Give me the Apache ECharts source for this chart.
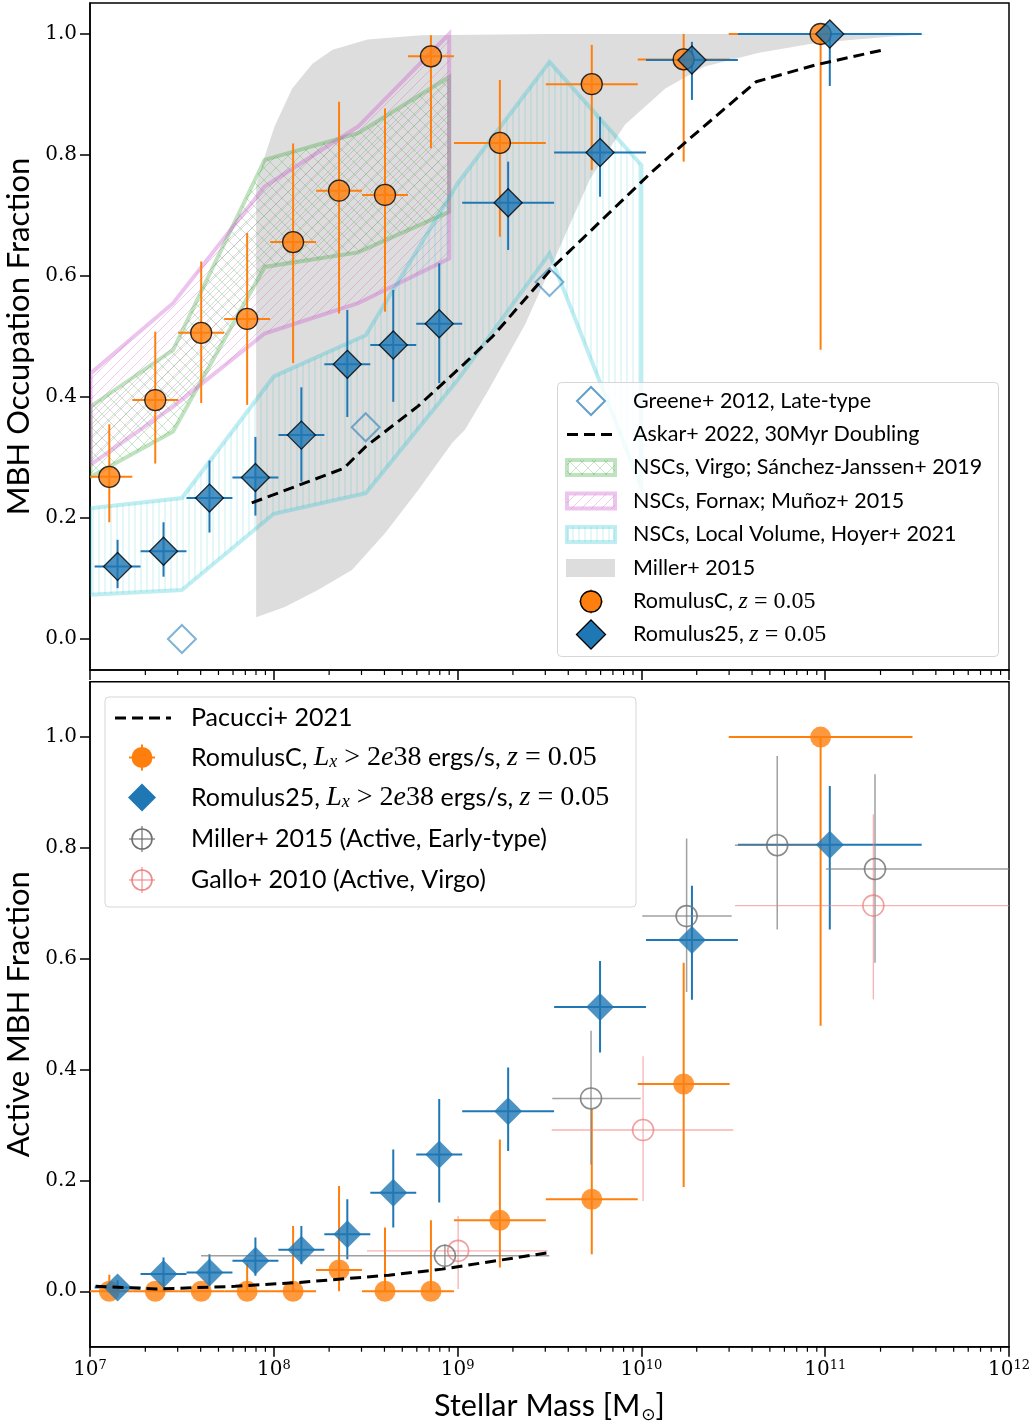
<!DOCTYPE html>
<html>
<head>
<meta charset="utf-8">
<script src="https://cdn.jsdelivr.net/npm/echarts@6/dist/echarts.min.js"></script>
<style>
  html, body { margin: 0; padding: 0; background: #fff; }
  #chart { width: 1032px; height: 1427px; }
</style>
</head>
<body>
<div id="chart"></div>
<script>
// All masses are stored as log10(M* / Msun).
const xMajorTicks = [7, 8, 9, 10, 11, 12];
const yTicksTop = [0.0, 0.2, 0.4, 0.6, 0.8, 1.0];
const yTicksBottom = [0.0, 0.2, 0.4, 0.6, 0.8, 1.0];

// ---- Top panel: MBH occupation fraction ----
// RomulusC
const romCLogM    = [7.105, 7.355, 7.605, 7.855, 8.105, 8.355, 8.605, 8.855, 9.23, 9.73, 10.23, 10.975];
const romCHalfBin = [0.125, 0.125, 0.125, 0.125, 0.125, 0.125, 0.125, 0.125, 0.25, 0.25, 0.25, 0.5];
const romCOcc     = [0.268, 0.395, 0.506, 0.529, 0.656, 0.741, 0.734, 0.963, 0.820, 0.917, 0.958, 1.000];
const romCOccLo   = [0.193, 0.290, 0.390, 0.387, 0.456, 0.538, 0.541, 0.811, 0.665, 0.775, 0.789, 0.478];
const romCOccHi   = [0.355, 0.508, 0.624, 0.671, 0.819, 0.888, 0.877, 0.998, 0.924, 0.982, 1.000, 1.000];
// Romulus25
const rom25LogM    = [7.15, 7.40, 7.65, 7.90, 8.15, 8.40, 8.65, 8.90, 9.275, 9.775, 10.275, 11.025];
const rom25HalfBin = [0.125, 0.125, 0.125, 0.125, 0.125, 0.125, 0.125, 0.125, 0.25, 0.25, 0.25, 0.5];
const rom25Occ     = [0.120, 0.145, 0.233, 0.267, 0.337, 0.454, 0.486, 0.521, 0.721, 0.804, 0.957, 1.000];
const rom25OccLo   = [0.084, 0.103, 0.176, 0.204, 0.260, 0.367, 0.392, 0.423, 0.643, 0.731, 0.891, 0.914];
const rom25OccHi   = [0.164, 0.193, 0.295, 0.334, 0.416, 0.544, 0.577, 0.621, 0.789, 0.863, 0.987, 1.000];
// Greene+ 2012, late-type
const greeneLogM = [7.5, 8.5, 9.5];
const greeneOcc  = [0.00, 0.35, 0.59];
// Askar+ 2022, 30 Myr doubling
const askarLogM = [7.88, 8.38, 8.50, 8.785, 9.04, 9.19, 9.52, 10.05, 10.255, 10.624, 10.95, 11.32];
const askarOcc  = [0.225, 0.282, 0.318, 0.385, 0.456, 0.500, 0.615, 0.770, 0.825, 0.921, 0.949, 0.974];
// NSC occupation bands
const virgoLogM  = [7.003, 7.452, 7.950, 8.459, 8.954];
const virgoLo    = [0.268, 0.343, 0.615, 0.639, 0.706];
const virgoHi    = [0.384, 0.478, 0.792, 0.836, 0.929];
const fornaxLogM = [7.003, 7.452, 7.950, 8.459, 8.954];
const fornaxLo   = [0.288, 0.384, 0.505, 0.555, 0.629];
const fornaxHi   = [0.439, 0.555, 0.748, 0.847, 1.000];
const hoyerLogM  = [7.0, 7.5, 8.0, 8.5, 9.0, 9.5, 10.0];
const hoyerLo    = [0.073, 0.081, 0.207, 0.241, 0.428, 0.637, 0.250];
const hoyerHi    = [0.216, 0.233, 0.434, 0.502, 0.753, 0.954, 0.783];
// Miller+ 2015 band
const millerHiLogM = [7.904, 7.95, 8.004, 8.10, 8.21, 8.32, 8.51, 8.80, 9.5, 12.0];
const millerHi     = [0.750, 0.797, 0.847, 0.910, 0.951, 0.974, 0.991, 0.998, 1.0, 1.0];
const millerLoLogM = [7.904, 8.06, 8.24, 8.425, 8.605, 8.785, 8.97, 9.04, 9.165, 9.367, 9.53, 9.72, 9.91, 10.13, 10.34, 10.64, 10.95, 11.36, 11.565, 12.0];
const millerLo     = [0.036, 0.053, 0.081, 0.114, 0.175, 0.246, 0.324, 0.346, 0.410, 0.520, 0.630, 0.760, 0.850, 0.910, 0.946, 0.969, 0.985, 0.996, 1.0, 1.0];

// ---- Bottom panel: active MBH fraction ----
const romCAct   = [0.000, 0.000, 0.000, 0.000, 0.000, 0.0385, 0.000, 0.000, 0.128, 0.166, 0.374, 1.000];
const romCActLo = [0.000, 0.000, 0.000, 0.000, 0.000, 0.000, 0.000, 0.000, 0.043, 0.067, 0.188, 0.479];
const romCActHi = [0.030, 0.000, 0.000, 0.050, 0.118, 0.190, 0.115, 0.128, 0.274, 0.329, 0.593, 1.000];
const rom25Act   = [0.007, 0.031, 0.034, 0.055, 0.075, 0.103, 0.178, 0.247, 0.325, 0.513, 0.634, 0.806];
const rom25ActLo = [0.000, 0.000, 0.010, 0.028, 0.049, 0.058, 0.115, 0.160, 0.253, 0.431, 0.526, 0.653];
const rom25ActHi = [0.020, 0.061, 0.067, 0.097, 0.118, 0.166, 0.256, 0.347, 0.404, 0.596, 0.732, 0.912];
// Miller+ 2015 (active, early-type)
const millerActLogM = [8.931, 9.726, 10.246, 10.739, 11.271];
const millerActXLo  = [7.604, 9.515, 10.005, 10.509, 11.004];
const millerActXHi  = [9.499, 9.996, 10.491, 10.970, 12.000];
const millerAct     = [0.064, 0.348, 0.677, 0.805, 0.762];
const millerActLo   = [0.043, 0.229, 0.540, 0.653, 0.593];
const millerActHi   = [0.085, 0.470, 0.817, 0.966, 0.933];
// Gallo+ 2010 (active, Virgo)
const galloLogM = [9.003, 10.009, 11.262];
const galloXLo  = [8.507, 9.512, 10.509];
const galloXHi  = [9.489, 10.500, 12.000];
const galloAct  = [0.073, 0.291, 0.696];
const galloLo   = [0.004, 0.163, 0.527];
const galloHi   = [0.136, 0.424, 0.861];
// Pacucci+ 2021
const pacucciLogM = [7.03, 7.36, 7.79, 8.14, 8.625, 8.916, 9.50];
const pacucciAct  = [0.009, 0.004, 0.009, 0.016, 0.029, 0.040, 0.070];

// ---------------------------------------------------------------
const LOG = v => Math.pow(10, v);
const SANS = 'Lato, "Open Sans", sans-serif';
const SERIF = '"DejaVu Serif", serif';
const MATH = '"Liberation Serif", serif';
const ORANGE = '#ff7f0e';
const BLUE = '#1f77b4';

const GREEN_EDGE = 'rgba(44,160,44,0.30)';
const PINK_EDGE = 'rgba(204,85,204,0.35)';
const CYAN_EDGE = 'rgba(23,190,207,0.28)';
const MILLER_FILL = '#dddddd';

function hatch(kind, size, color, lw) {
  const c = document.createElement('canvas');
  c.width = size; c.height = size;
  const g = c.getContext('2d');
  g.strokeStyle = color; g.lineWidth = lw;
  g.beginPath();
  if (kind === '/' || kind === 'x') {
    for (let k = -1; k <= 1; k++) { g.moveTo(k * size, size); g.lineTo(k * size + size, 0); }
  }
  if (kind === 'x') {
    for (let k = -1; k <= 1; k++) { g.moveTo(k * size, 0); g.lineTo(k * size + size, size); }
  }
  if (kind === '|') { g.moveTo(size / 2, 0); g.lineTo(size / 2, size); }
  g.stroke();
  return { image: c, repeat: 'repeat' };
}
const virgoHatch = hatch('x', 12, 'rgba(44,160,44,0.26)', 1);
const fornaxHatch = hatch('/', 10, 'rgba(214,100,204,0.34)', 1);
const hoyerHatch = hatch('|', 6, 'rgba(23,190,207,0.22)', 1);

// Closed band between an upper and a lower curve.
function bandSeries(hiX, hi, loX, lo, fill, stroke, lw) {
  return {
    type: 'custom', xAxisIndex: 0, yAxisIndex: 0, silent: true, clip: true,
    data: [[LOG(hiX[0]), hi[0]]],
    renderItem(params, api) {
      const pts = [];
      hiX.forEach((x, i) => pts.push(api.coord([LOG(x), hi[i]])));
      for (let i = loX.length - 1; i >= 0; i--) pts.push(api.coord([LOG(loX[i]), lo[i]]));
      return {
        type: 'polygon', shape: { points: pts },
        style: { fill: fill, stroke: stroke || null, lineWidth: lw || 0, lineJoin: 'miter' }
      };
    }
  };
}

// Crossed x/y error bars.
function errorSeries(gi, cx, cy, xlo, xhi, ylo, yhi, color, width) {
  const data = cx.map((c, i) => [LOG(c), cy[i], LOG(xlo[i]), LOG(xhi[i]), ylo[i], yhi[i]]);
  return {
    type: 'custom', xAxisIndex: gi, yAxisIndex: gi, silent: true, clip: true, data,
    renderItem(params, api) {
      const a = api.coord([api.value(2), api.value(1)]);
      const b = api.coord([api.value(3), api.value(1)]);
      const c = api.coord([api.value(0), api.value(4)]);
      const d = api.coord([api.value(0), api.value(5)]);
      const st = { stroke: color, lineWidth: width };
      return {
        type: 'group', children: [
          { type: 'line', shape: { x1: a[0], y1: a[1], x2: b[0], y2: b[1] }, style: st },
          { type: 'line', shape: { x1: c[0], y1: c[1], x2: d[0], y2: d[1] }, style: st }
        ]
      };
    }
  };
}

function scatterSeries(gi, lx, ys, symbol, size, itemStyle) {
  return {
    type: 'scatter', xAxisIndex: gi, yAxisIndex: gi, silent: true,
    symbol, symbolSize: size, itemStyle,
    data: lx.map((v, i) => [LOG(v), ys[i]])
  };
}

// Minor ticks at 2..9 x 10^n along the bottom of each panel.
function minorTicks(gi, yBase) {
  const vals = [];
  for (let n = 7; n < 12; n++) for (let k = 2; k <= 9; k++) vals.push([k * Math.pow(10, n), yBase]);
  return {
    type: 'custom', xAxisIndex: gi, yAxisIndex: gi, silent: true, clip: false, z: 10, data: vals,
    renderItem(params, api) {
      const p = api.coord([api.value(0), api.value(1)]);
      return { type: 'line', shape: { x1: p[0], y1: p[1], x2: p[0], y2: p[1] + 5 }, style: { stroke: '#000', lineWidth: 1.2 } };
    }
  };
}

const topMin = -0.0512, topMax = 1.0512;
const botMin = -0.1, botMax = 1.1;

function xAxisFor(gi, withLabels) {
  const ax = {
    type: 'log', logBase: 10, gridIndex: gi, min: 1e7, max: 1e12,
    axisLine: { show: true, onZero: false, lineStyle: { color: '#000', width: 1.5 } },
    axisTick: { show: true, length: 10, lineStyle: { color: '#000', width: 1.5 }, customValues: xMajorTicks.map(LOG) },
    splitLine: { show: false }, minorTick: { show: false },
    axisLabel: { show: false }
  };
  if (withLabels) {
    ax.axisLabel = {
      show: true, customValues: xMajorTicks.map(LOG), margin: 12, color: '#000',
      formatter: v => '{b|10}{s|' + Math.round(Math.log10(v)) + '}',
      rich: {
        b: { fontFamily: SERIF, fontSize: 20, lineHeight: 22, color: '#000' },
        s: { fontFamily: SERIF, fontSize: 13, lineHeight: 13, verticalAlign: 'top', color: '#000' }
      }
    };
    ax.name = 'Stellar Mass [M{sub|⊙}]';
    ax.nameLocation = 'middle';
    ax.nameGap = 42;
    ax.nameTextStyle = {
      fontFamily: SANS, fontSize: 30.5, color: '#000', lineHeight: 35,
      rich: { sub: { fontFamily: '"DejaVu Sans", sans-serif', fontSize: 17, verticalAlign: 'bottom', lineHeight: 18, color: '#000', padding: [0, 0, 0, 1] } }
    };
  }
  return ax;
}

function yAxisFor(gi, min, max, ticks, name) {
  return {
    type: 'value', gridIndex: gi, min, max,
    axisLine: { show: true, onZero: false, lineStyle: { color: '#000', width: 1.5 } },
    axisTick: { show: true, length: 10, lineStyle: { color: '#000', width: 1.5 }, customValues: ticks },
    axisLabel: { show: true, customValues: ticks, formatter: v => v.toFixed(1), fontFamily: SERIF, fontSize: 20, color: '#000', margin: 13 },
    splitLine: { show: false },
    name, nameLocation: 'middle', nameGap: 50,
    nameTextStyle: { fontFamily: SANS, fontSize: 31, color: '#000' }
  };
}

// ---------------- legends (drawn as graphic elements) ----------------
const legendEls = [];
function box(x, y, w, h) {
  legendEls.push({ type: 'rect', shape: { x, y, width: w, height: h, r: 4 },
    style: { fill: 'rgba(255,255,255,0.8)', stroke: 'rgba(204,204,204,0.8)', lineWidth: 1 } });
}
function label(x, y, text, size, rich) {
  legendEls.push({ type: 'text', x, y, style: {
    text, fill: '#000', font: size + 'px ' + SANS, verticalAlign: 'middle', align: 'left', rich: rich || undefined } });
}
function diamond(cx, cy, h, fill, stroke, lw) {
  legendEls.push({ type: 'polygon', shape: { points: [[cx, cy - h], [cx + h, cy], [cx, cy + h], [cx - h, cy]] },
    style: { fill, stroke, lineWidth: lw } });
}
function circle(cx, cy, r, fill, stroke, lw) {
  legendEls.push({ type: 'circle', shape: { cx, cy, r }, style: { fill, stroke, lineWidth: lw } });
}
function seg(x1, y1, x2, y2, stroke, lw, dash) {
  legendEls.push({ type: 'line', shape: { x1, y1, x2, y2 }, style: { stroke, lineWidth: lw, lineDash: dash || null } });
}
function patch(x, y, w, h, fill, stroke, lw) {
  legendEls.push({ type: 'rect', shape: { x, y, width: w, height: h }, style: { fill, stroke: stroke || null, lineWidth: lw || 0 } });
}

function mathRich(size) {
  const m = Math.round(size * 1.12);
  return {
    i: { fontFamily: MATH, fontStyle: 'italic', fontSize: m, color: '#000' },
    r: { fontFamily: MATH, fontSize: m, color: '#000' },
    sub: { fontFamily: MATH, fontStyle: 'italic', fontSize: Math.round(size * 0.72), verticalAlign: 'bottom', lineHeight: Math.round(size * 0.72), color: '#000' }
  };
}

// top legend
box(557.5, 382.5, 441, 274);
const tx = 633, tFont = 21.5;
const tRows = [401, 434.5, 467.5, 501, 534.5, 568, 601.5, 634.5];
diamond(591, tRows[0], 14, 'none', 'rgba(31,119,180,0.7)', 2);
label(tx, tRows[0], 'Greene+ 2012, Late-type', tFont);
seg(567, tRows[1], 615, tRows[1], '#000', 3, [11, 6]);
label(tx, tRows[1], 'Askar+ 2022, 30Myr Doubling', tFont);
patch(567, tRows[2] - 7.5, 48, 15, virgoHatch, GREEN_EDGE, 4);
label(tx, tRows[2], 'NSCs, Virgo; Sánchez-Janssen+ 2019', tFont);
patch(567, tRows[3] - 7.5, 48, 15, fornaxHatch, PINK_EDGE, 4);
label(tx, tRows[3], 'NSCs, Fornax; Muñoz+ 2015', tFont);
patch(567, tRows[4] - 7.5, 48, 15, hoyerHatch, CYAN_EDGE, 4);
label(tx, tRows[4], 'NSCs, Local Volume, Hoyer+ 2021', tFont);
patch(566, tRows[5] - 9, 49, 18, MILLER_FILL);
label(tx, tRows[5], 'Miller+ 2015', tFont);
seg(591, tRows[6] - 12, 591, tRows[6] + 12, ORANGE, 2);
seg(579, tRows[6], 603, tRows[6], ORANGE, 2);
circle(591, tRows[6], 10.5, ORANGE, '#000', 1.3);
label(tx, tRows[6], 'RomulusC, {i|z}{r| = 0.05}', tFont, mathRich(tFont));
diamond(591, tRows[7], 14.5, BLUE, '#000', 1.3);
label(tx, tRows[7], 'Romulus25, {i|z}{r| = 0.05}', tFont, mathRich(tFont));

// bottom legend
box(105, 697, 531, 210);
const bx = 191, bFont = 25, ic = 142;
const bRows = [718, 757.5, 797.5, 839, 880];
seg(115, bRows[0], 171, bRows[0], '#000', 3, [11, 6]);
label(bx, bRows[0], 'Pacucci+ 2021', bFont);
seg(ic - 13, bRows[1], ic + 13, bRows[1], ORANGE, 2);
seg(ic, bRows[1] - 13, ic, bRows[1] + 13, ORANGE, 2);
circle(ic, bRows[1], 10.5, ORANGE, null, 0);
label(bx, bRows[1], 'RomulusC, {i|L}{sub|x}{r| > 2}{i|e}{r|38} ergs/s, {i|z}{r| = 0.05}', bFont, mathRich(bFont));
diamond(ic, bRows[2], 14, BLUE, null, 0);
label(bx, bRows[2], 'Romulus25, {i|L}{sub|x}{r| > 2}{i|e}{r|38} ergs/s, {i|z}{r| = 0.05}', bFont, mathRich(bFont));
seg(ic - 13, bRows[3], ic + 13, bRows[3], 'rgba(110,110,110,0.8)', 1.5);
seg(ic, bRows[3] - 13, ic, bRows[3] + 13, 'rgba(110,110,110,0.8)', 1.5);
circle(ic, bRows[3], 10, 'none', '#707070', 1.6);
label(bx, bRows[3], 'Miller+ 2015 (Active, Early-type)', bFont);
seg(ic - 13, bRows[4], ic + 13, bRows[4], 'rgba(240,128,128,0.7)', 1.5);
seg(ic, bRows[4] - 13, ic, bRows[4] + 13, 'rgba(240,128,128,0.7)', 1.5);
circle(ic, bRows[4], 10, 'none', 'rgba(232,110,110,0.8)', 1.6);
label(bx, bRows[4], 'Gallo+ 2010 (Active, Virgo)', bFont);

// ---------------- series ----------------
const halfLo = (c, h) => c.map((v, i) => v - h[i]);
const halfHi = (c, h) => c.map((v, i) => v + h[i]);

const series = [
  // top panel
  bandSeries(millerHiLogM, millerHi, millerLoLogM, millerLo, MILLER_FILL, null, 0),
  bandSeries(virgoLogM, virgoHi, virgoLogM, virgoLo, virgoHatch, GREEN_EDGE, 4),
  bandSeries(fornaxLogM, fornaxHi, fornaxLogM, fornaxLo, fornaxHatch, PINK_EDGE, 4),
  bandSeries(hoyerLogM, hoyerHi, hoyerLogM, hoyerLo, hoyerHatch, CYAN_EDGE, 4),
  {
    type: 'line', xAxisIndex: 0, yAxisIndex: 0, silent: true, showSymbol: false, symbol: 'none',
    lineStyle: { color: '#000', width: 3, type: [11, 6] },
    data: askarLogM.map((v, i) => [LOG(v), askarOcc[i]])
  },
  scatterSeries(0, greeneLogM, greeneOcc, 'diamond', 28,
    { color: 'rgba(0,0,0,0)', borderColor: 'rgba(31,119,180,0.7)', borderWidth: 2 }),
  errorSeries(0, romCLogM, romCOcc, halfLo(romCLogM, romCHalfBin), halfHi(romCLogM, romCHalfBin), romCOccLo, romCOccHi, ORANGE, 2),
  scatterSeries(0, romCLogM, romCOcc, 'circle', 21, { color: ORANGE, borderColor: '#000', borderWidth: 1.3 }),
  errorSeries(0, rom25LogM, rom25Occ, halfLo(rom25LogM, rom25HalfBin), halfHi(rom25LogM, rom25HalfBin), rom25OccLo, rom25OccHi, BLUE, 2),
  scatterSeries(0, rom25LogM, rom25Occ, 'diamond', 28, { color: BLUE, borderColor: '#000', borderWidth: 1.3 }),
  minorTicks(0, topMin),

  // bottom panel
  {
    type: 'line', xAxisIndex: 1, yAxisIndex: 1, silent: true, showSymbol: false, symbol: 'none',
    lineStyle: { color: '#000', width: 3, type: [11, 6] },
    data: pacucciLogM.map((v, i) => [LOG(v), pacucciAct[i]])
  },
  errorSeries(1, romCLogM, romCAct, halfLo(romCLogM, romCHalfBin), halfHi(romCLogM, romCHalfBin), romCActLo, romCActHi, ORANGE, 2),
  scatterSeries(1, romCLogM, romCAct, 'circle', 21, { color: ORANGE }),
  errorSeries(1, rom25LogM, rom25Act, halfLo(rom25LogM, rom25HalfBin), halfHi(rom25LogM, rom25HalfBin), rom25ActLo, rom25ActHi, BLUE, 2),
  scatterSeries(1, rom25LogM, rom25Act, 'diamond', 28, { color: BLUE }),
  errorSeries(1, millerActLogM, millerAct, millerActXLo, millerActXHi, millerActLo, millerActHi, 'rgba(128,128,128,0.75)', 1.5),
  scatterSeries(1, millerActLogM, millerAct, 'circle', 21, { color: 'rgba(0,0,0,0)', borderColor: '#707070', borderWidth: 1.6 }),
  errorSeries(1, galloLogM, galloAct, galloXLo, galloXHi, galloLo, galloHi, 'rgba(240,128,128,0.6)', 1.3),
  scatterSeries(1, galloLogM, galloAct, 'circle', 21, { color: 'rgba(0,0,0,0)', borderColor: 'rgba(232,110,110,0.8)', borderWidth: 1.6 }),
  minorTicks(1, botMin)
];

const chart = echarts.init(document.getElementById('chart'), null, { renderer: 'canvas' });
chart.setOption({
  animation: false,
  backgroundColor: '#fff',
  textStyle: { fontFamily: SANS },
  grid: [
    { left: 90, width: 919, top: 3, height: 667, show: true, borderColor: '#000', borderWidth: 1.5, backgroundColor: 'transparent', containLabel: false, outerBoundsMode: 'none' },
    { left: 90, width: 919, top: 681.7, height: 665, show: true, borderColor: '#000', borderWidth: 1.5, backgroundColor: 'transparent', containLabel: false, outerBoundsMode: 'none' }
  ],
  xAxis: [xAxisFor(0, false), xAxisFor(1, true)],
  yAxis: [
    yAxisFor(0, topMin, topMax, yTicksTop, 'MBH Occupation Fraction'),
    yAxisFor(1, botMin, botMax, yTicksBottom, 'Active MBH Fraction')
  ],
  series,
  graphic: { elements: legendEls.map(e => Object.assign({ z: 100, silent: true }, e)) }
});
</script>
</body>
</html>
